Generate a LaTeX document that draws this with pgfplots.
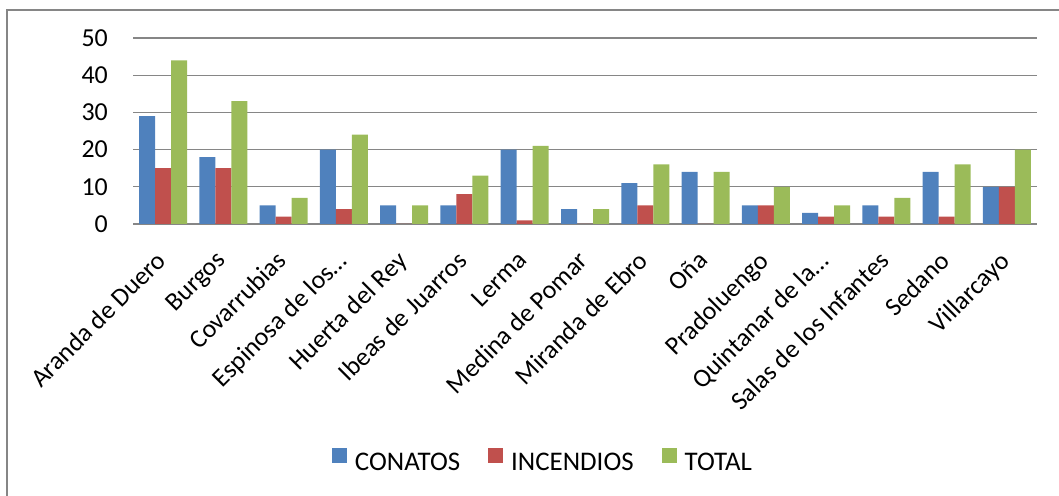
\documentclass[border=0pt]{standalone}
\usepackage{fontspec}
\setmainfont{Carlito}
\usepackage{pgfplots}
\pgfplotsset{compat=1.18}
\definecolor{cblue}{HTML}{4F81BD}
\definecolor{cred}{HTML}{C0504D}
\definecolor{cgreen}{HTML}{9BBB59}
\definecolor{cgrid}{HTML}{868686}

\pgfplotstableread{
x conatos incendios total
0 29 15 44
1 18 15 33
2 5 2 7
3 20 4 24
4 5 0 5
5 5 8 13
6 20 1 21
7 4 0 4
8 11 5 16
9 14 0 14
10 5 5 10
11 3 2 5
12 5 2 7
13 14 2 16
14 10 10 20
}\datatable

\begin{document}
\begin{tikzpicture}[x=1bp,y=1bp]
\path[use as bounding box] (0,0) rectangle (1059,496);
\draw[cgrid, line width=1.5bp] (7,-10) -- (7,486) -- (1070,486);
\begin{axis}[
    at={(133bp,272bp)}, anchor=south west,
    scale only axis,
    width=904bp, height=186bp,
    ybar=0pt, bar width=16bp,
    xmin=-0.5, xmax=14.5,
    ymin=0, ymax=50,
    ytick={0,10,...,50},
    xtick={0,...,14},
    xticklabels={Aranda de Duero, Burgos, Covarrubias, Espinosa de los…, Huerta del Rey, Ibeas de Juarros, Lerma, Medina de Pomar, Miranda de Ebro, Oña, Pradoluengo, Quintanar de la…, Salas de los Infantes, Sedano, Villarcayo},
    axis line style={draw=none},
    major tick length=0pt,
    ymajorgrids,
    major grid style={cgrid, line width=1.2bp},
    tick label style={font=\fontsize{26}{30}\selectfont},
    /pgf/number format/assume math mode=true,
    yticklabel style={anchor=east, inner sep=0pt, xshift=-25bp},
    xticklabel style={rotate=45, anchor=north east, inner sep=0pt, yshift=-12bp, xshift=-24bp},
    legend style={at={(0.4535,-1.274)}, anchor=center, draw=none,
        font=\fontsize{27}{31}\selectfont, legend columns=-1,
        /tikz/every even column/.append style={column sep=26bp}},
    legend image code/.code={\fill[#1] (0bp,-1bp) rectangle (15bp,14bp); \path (21bp,0bp);},
]
\addplot[fill=cblue, draw=none] table[x=x, y=conatos] {\datatable};
\addplot[fill=cred, draw=none] table[x=x, y=incendios] {\datatable};
\addplot[fill=cgreen, draw=none] table[x=x, y=total] {\datatable};
\legend{CONATOS, INCENDIOS, TOTAL}
\end{axis}
\end{tikzpicture}
\end{document}
